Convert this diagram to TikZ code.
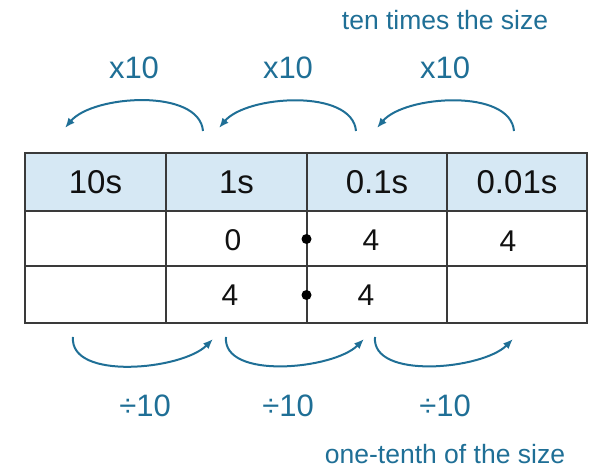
\documentclass[tikz,border=0pt]{standalone}
\usepackage{xcolor}
\usepackage{fontspec}
\setmainfont{Liberation Sans}
\usetikzlibrary{positioning,arrows.meta}
\definecolor{pvBlue}{HTML}{1F6F96}
\definecolor{pvHead}{HTML}{D6E8F4}
\definecolor{pvLine}{HTML}{3A3A3A}
\definecolor{pvInk}{HTML}{111111}

\begin{document}
\begin{tikzpicture}[
  x=1pt, y=1pt,
  hcell/.style={draw=pvLine, line width=1.4pt, fill=pvHead, inner sep=0pt,
                minimum height=58pt, text=pvInk, font=\fontsize{33}{36}\selectfont},
  cell/.style={draw=pvLine, line width=1.4pt, fill=white, inner sep=0pt},
  digit/.style={inner sep=0pt, text=pvInk, font=\fontsize{30}{32}\selectfont},
  point/.style={circle, fill=black, inner sep=0pt, minimum size=10pt},
  hop/.style={-{Latex[length=10pt,width=8pt]}, line width=2pt, draw=pvBlue},
  factor/.style={anchor=base, text=pvBlue, font=\fontsize{31}{33}\selectfont},
  caption/.style={anchor=base, text=pvBlue, font=\fontsize{26.5}{28}\selectfont},
]
\useasboundingbox (0,0) rectangle (591,468);

% ── Place-value table: header row ────────────────────────────────────────────
\node[hcell, minimum width=141pt] (h1) at ( 95.5,286) {10s};
\node[hcell, minimum width=141pt] (h2) at (236.5,286) {1s};
\node[hcell, minimum width=140pt] (h3) at (377  ,286) {0.1s};
\node[hcell, minimum width=140pt] (h4) at (517  ,286) {0.01s};

% ── Body rows ────────────────────────────────────────────────────────────────
\node[cell, minimum width=141pt, minimum height=55pt] (a1) at ( 95.5,229.5) {};
\node[cell, minimum width=141pt, minimum height=55pt] (a2) at (236.5,229.5) {};
\node[cell, minimum width=140pt, minimum height=55pt] (a3) at (377  ,229.5) {};
\node[cell, minimum width=140pt, minimum height=55pt] (a4) at (517  ,229.5) {};
\node[cell, minimum width=141pt, minimum height=57pt] (b1) at ( 95.5,173.5) {};
\node[cell, minimum width=141pt, minimum height=57pt] (b2) at (236.5,173.5) {};
\node[cell, minimum width=140pt, minimum height=57pt] (b3) at (377  ,173.5) {};
\node[cell, minimum width=140pt, minimum height=57pt] (b4) at (517  ,173.5) {};

% digits and decimal points
\node[digit] (a2d) at (233,228) {0};
\node[digit] (a3d) at (371,228) {4};
\node[digit] (a4d) at (508,227) {4};
\node[digit] (b2d) at (230,172.5) {4};
\node[digit] (b3d) at (366,172.5) {4};
\node[point] (pa) at (306.5,229) {};
\node[point] (pb) at (306.5,173) {};

% ── Multiply by ten: hops to the left ────────────────────────────────────────
\foreach \s/\e/\l [count=\i] in {203/65/134, 356/219/288, 514/377/445}{
  \coordinate (up\i s) at (\s,337);
  \coordinate (up\i e) at (\e,340);
  \draw[hop] (up\i s) to[out=95,in=50,looseness=0.8] (up\i e);
  \node[factor] (mul\i) at (\l,389) {x10};
}
\node[caption] (tenx) at (445,438) {ten times the size};

% ── Divide by ten: hops to the right ─────────────────────────────────────────
\foreach \s/\e/\l [count=\i] in {73/213/145, 226/364/288, 375/513/445}{
  \coordinate (dn\i s) at (\s,131);
  \coordinate (dn\i e) at (\e,129);
  \draw[hop] (dn\i s) to[out=-95,in=-135,looseness=0.8] (dn\i e);
  \node[factor] (div\i) at (\l,51) {÷10};
}
\node[caption] (tenth) at (445,5) {one-tenth of the size};

\end{tikzpicture}
\end{document}
